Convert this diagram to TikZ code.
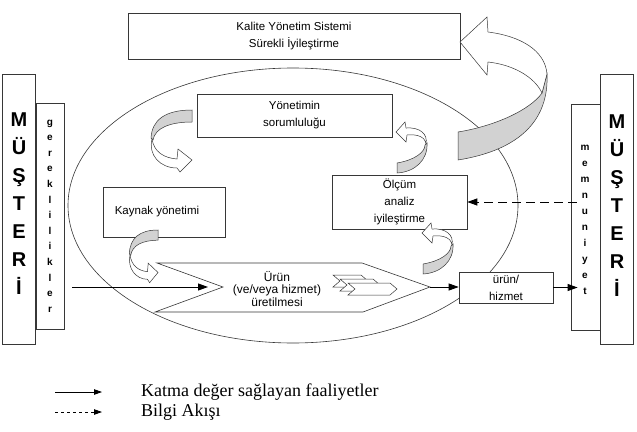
\documentclass[tikz,border=0pt]{standalone}
\usepackage{fontspec}
\setmainfont{Liberation Sans}
\newfontfamily\legendfont{Liberation Serif}
\usetikzlibrary{arrows.meta}
\definecolor{ribbon}{RGB}{210,210,210}
\definecolor{edge}{RGB}{55,55,55}
\tikzset{
  box/.style={draw=edge, line width=0.6pt, fill=white, align=center, inner sep=0pt,
              font=\fontsize{11.5}{17}\selectfont},
  sidebox/.style={draw=edge, line width=0.8pt, fill=white, align=center, inner sep=0pt},
  bigletters/.style={font=\fontsize{20}{28}\selectfont\bfseries, align=center, inner sep=0pt},
  smallletters/.style={font=\fontsize{10}{15.6}\selectfont\bfseries, align=center, inner sep=0pt},
  conn/.style={line width=0.9pt, -{Triangle[length=10pt,width=7pt]}},
  infoflow/.style={line width=1pt, dash pattern=on 9pt off 5pt, -{Triangle[length=10pt,width=7pt]}},
  legendsolid/.style={line width=0.8pt, -{Triangle[length=8pt,width=5.5pt]}},
  legenddash/.style={line width=0.8pt, dash pattern=on 3pt off 3pt, -{Triangle[length=8pt,width=5.5pt]}},
  legendtext/.style={font=\legendfont\fontsize{18}{20}\selectfont, inner sep=0pt, anchor=west},
  ribbonpart/.style={draw=edge, line width=0.5pt, fill=ribbon},
  ribbonwhite/.style={draw=edge, line width=0.5pt, fill=white},
  outline/.style={draw=edge, line width=0.6pt, fill=white},
  curldown/.pic={
    \path[ribbonpart] (0,0) .. controls (-27,0) and (-40,10) .. (-41,28) -- (-39,30)
       .. controls (-37,18) and (-22,12) .. (0,12) -- cycle;
    \path[ribbonwhite] (-40,29) .. controls (-38,42) and (-28,48) .. (-15,49) -- (-14,39)
       -- (0,50) -- (-12,62) -- (-15,58) .. controls (-32,58) and (-44,45) .. (-40,29) -- cycle;
  },
  curlup/.pic={
    \path[ribbonpart] (0,0) .. controls (18,-3) and (28,-11) .. (28,-18) -- (30,-20)
       .. controls (31,-3) and (18,9) .. (0,10) -- cycle;
    \path[ribbonwhite] (29,-19) .. controls (28,-26) and (21,-29) .. (10,-28) -- (9,-21)
       -- (-1,-31) -- (8,-41) -- (9,-35) .. controls (23,-36) and (31,-29) .. (29,-19) -- cycle;
  }
}
\begin{document}
\begin{tikzpicture}[x=1pt,y=-1pt]
\useasboundingbox (0,0) rectangle (637,431);

% big ellipse
\draw[edge, line width=0.6pt] (293,205.5) ellipse [x radius=225pt, y radius=137.5pt];

% side boxes
\node[sidebox, minimum width=33pt, minimum height=270pt] (cleft) at (18.5,209) {};
\node[bigletters] (cleftt) at (19,204) {M\\Ü\\Ş\\T\\E\\R\\İ};
\node[sidebox, minimum width=28pt, minimum height=226pt] (gerek) at (50,216) {};
\node[smallletters] (gerekt) at (50,216) {g\\e\\r\\e\\k\\l\\i\\l\\i\\k\\l\\e\\r};
\node[sidebox, minimum width=33pt, minimum height=270pt] (cright) at (616.5,209) {};
\node[bigletters] (crightt) at (617,206) {M\\Ü\\Ş\\T\\E\\R\\İ};
\node[sidebox, minimum width=29pt, minimum height=226pt] (memn) at (585.5,217) {};
\node[smallletters, font=\fontsize{10}{16}\selectfont\bfseries] (memnt) at (585,220) {m\\e\\m\\n\\u\\n\\i\\y\\e\\t};

% main boxes
\node[box, minimum width=332pt, minimum height=46pt] (kys) at (294,36)
  {Kalite Yönetim Sistemi\\Sürekli İyileştirme};
\node[box, minimum width=195pt, minimum height=43pt] (yon) at (294.5,115.5)
  {Yönetimin\\sorumluluğu};
\node[box, minimum width=122pt, minimum height=50pt] (kay) at (164,212)
  {\hspace*{-14pt}Kaynak yönetimi};
\node[box, minimum width=135pt, minimum height=54pt] (olc) at (399.5,202)
  {Ölçüm\\analiz\\iyileştirme};
\node[box, minimum width=94pt, minimum height=31pt] (urun) at (506,287.5)
  {ürün/\\hizmet};

% production arrow shape
\path[outline] (157,263) -- (362,263) -- (430,287) -- (363,312) -- (155,312) -- (223,287) -- cycle;
\node[font=\fontsize{12}{12.5}\selectfont, align=center, inner sep=0pt] (prod) at (277,289)
  {Ürün\\(ve/veya hizmet)\\üretilmesi};
\coordinate (ptip) at (430,287);
\coordinate (pin) at (208,287);

% small chevrons
\path[ribbonwhite] (333,275) -- (361,275) -- (368,281) -- (361,287) -- (333,287) -- (340,281) -- cycle;
\path[ribbonwhite] (340,279) -- (373,279) -- (380,285) -- (373,291) -- (340,291) -- (347,285) -- cycle;
\path[ribbonwhite] (348,283) -- (390,283) -- (397,289) -- (390,295) -- (348,295) -- (355,289) -- cycle;

% big curved arrow
\path[ribbonpart] (458,132) .. controls (495,126) and (530,110) .. (542,93) -- (547,74)
   .. controls (549,120) and (520,150) .. (458,160) -- cycle;
\path[ribbonwhite] (547,74) .. controls (545,50) and (520,36) .. (488,32) -- (487,17) -- (460,42)
   -- (487,75) -- (488,62) .. controls (515,65) and (535,78) .. (542,93) -- cycle;

% small curved arrows
\pic at (192,110) {curldown};
\pic[xscale=0.7, yscale=0.85] at (158,230) {curldown};
\pic at (397,163) {curlup};
\pic at (423,264) {curlup};

% connectors
\draw[conn] ([xshift=8pt]gerek.east |- pin) -- (pin);
\draw[conn] (ptip) -- (ptip -| urun.west);
\coordinate (memnin) at ([xshift=7pt]memn.west |- urun.east);
\draw[conn] (urun.east) -- (memnin);
\coordinate (memnout) at ([xshift=6pt]memn.west |- olc.east);
\draw[infoflow] (memnout) -- (olc.east);

% legend
\coordinate (lg1s) at (55,392);
\coordinate (lg1e) at (102,392);
\draw[legendsolid] (lg1s) -- (lg1e);
\node[legendtext] (lgt1) at (141,392) {Katma değer sağlayan faaliyetler};
\coordinate (lg2s) at (55,412);
\coordinate (lg2e) at (102,412);
\draw[legenddash] (lg2s) -- (lg2e);
\node[legendtext] (lgt2) at (141,412) {Bilgi Akışı};
\end{tikzpicture}
\end{document}
